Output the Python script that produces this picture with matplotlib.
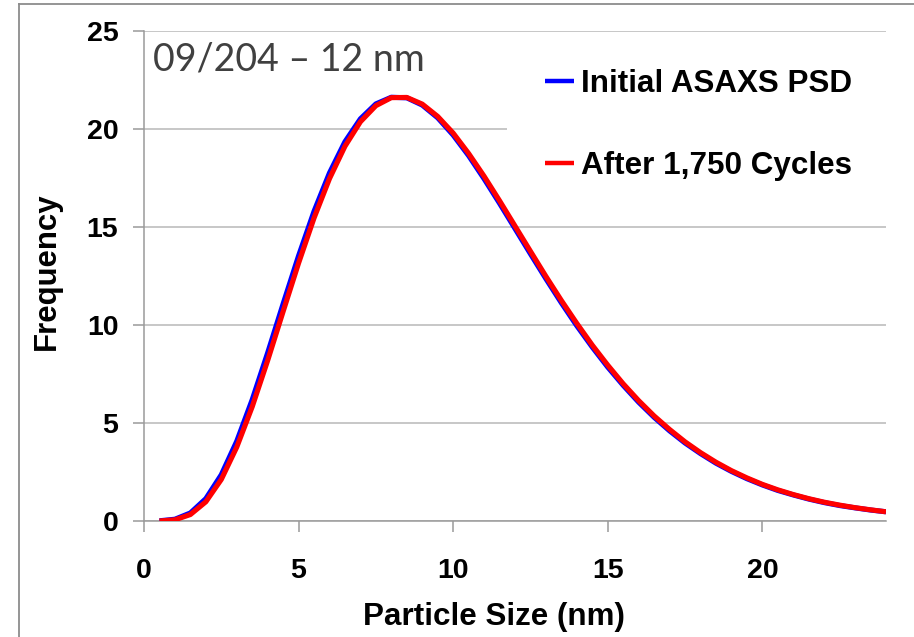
import numpy as np
import matplotlib
matplotlib.use("Agg")
import matplotlib.pyplot as plt
from matplotlib.patches import Rectangle
from matplotlib.lines import Line2D

plt.rcParams['font.family'] = ['Liberation Sans', 'DejaVu Sans']

# =============================================================================
# data
# =============================================================================
sizes = np.arange(0.5, 24.5, 0.5)   # particle size, nm

initial_psd = [0.01, 0.09, 0.41, 1.14, 2.36, 4.07, 6.19, 8.58, 11.08, 13.53,
               15.80, 17.76, 19.35, 20.52, 21.28, 21.62, 21.59, 21.22, 20.57, 19.69,
               18.64, 17.46, 16.21, 14.92, 13.63, 12.36, 11.13, 9.96, 8.87, 7.85,
               6.92, 6.06, 5.29, 4.60, 3.98, 3.44, 2.95, 2.53, 2.16, 1.84,
               1.56, 1.33, 1.12, 0.94, 0.79, 0.67, 0.56, 0.47]

after_cycles = [0.00, 0.06, 0.33, 0.98, 2.12, 3.77, 5.83, 8.19, 10.69, 13.16,
                15.46, 17.47, 19.12, 20.37, 21.19, 21.60, 21.61, 21.27, 20.64, 19.79,
                18.75, 17.59, 16.34, 15.05, 13.76, 12.48, 11.25, 10.08, 8.97, 7.95,
                7.00, 6.14, 5.36, 4.67, 4.04, 3.49, 3.00, 2.57, 2.20, 1.87,
                1.59, 1.35, 1.14, 0.96, 0.81, 0.68, 0.57, 0.47]

series_names = ["Initial ASAXS PSD", "After 1,750 Cycles"]
xticks = [0, 5, 10, 15, 20]
yticks = [0, 5, 10, 15, 20, 25]
title = "09/204 \u2013 12 nm"

# =============================================================================
# figure
# =============================================================================
W, H = 914, 637
fig = plt.figure(figsize=(W / 100, H / 100), dpi=100)
ax = fig.add_axes([144 / W, (H - 521) / H, 742 / W, 490 / H])

axis_col = '#9a9a9a'
grid_col = '#b8b8b8'

ax.plot(sizes, initial_psd, color='#0000ff', lw=3.7, label=series_names[0],
        solid_joinstyle='round', solid_capstyle='butt', zorder=3)
ax.plot(sizes, after_cycles, color='#ff0000', lw=3.7, label=series_names[1],
        solid_joinstyle='round', solid_capstyle='butt', zorder=4)

ax.set_xlim(0, 24)
ax.set_ylim(0, 25)
ax.set_xticks(xticks)
ax.set_yticks(yticks)

ax.yaxis.grid(True, color=grid_col, lw=1.1)
ax.set_axisbelow(True)

for s in ['top', 'right']:
    ax.spines[s].set_visible(False)
for s in ['left', 'bottom']:
    ax.spines[s].set_color(axis_col)
    ax.spines[s].set_linewidth(1.1)

ax.tick_params(axis='both', direction='out', length=8, width=1.1, color=axis_col,
               labelsize=20.5)
ax.tick_params(axis='y', pad=10.5)
ax.tick_params(axis='x', pad=19)
for lab in ax.get_xticklabels() + ax.get_yticklabels():
    lab.set_fontweight('bold')

ax.set_xlabel("Particle Size (nm)", fontsize=22.6, fontweight='bold')
ax.set_ylabel("Frequency", fontsize=22.4, fontweight='bold')
ax.xaxis.set_label_coords(0.4717, -0.1653)
ax.yaxis.set_label_coords(-0.1105, 0.509)

# white block behind the legend (hides the gridline there)
ax.add_patch(Rectangle((0.4892, 0.655), 0.52, 0.327, transform=ax.transAxes,
                       facecolor='white', edgecolor='none', zorder=1.5,
                       clip_on=False))

leg = ax.legend(loc='upper left', bbox_to_anchor=(545 / W, (H - 69) / H),
                bbox_transform=fig.transFigure, frameon=False,
                prop={'size': 22.6, 'weight': 'bold'},
                handlelength=0.92, handletextpad=0.22, labelspacing=1.65,
                borderpad=0, borderaxespad=0)
for h in leg.get_lines():
    h.set_linewidth(3.2)

# title text
fig.text(153 / W, (H - 70) / H, title, fontsize=27, family=['Lato', 'DejaVu Sans'],
         color='#404040', ha='left', va='baseline')

# outer chart border (cropped on the right and bottom)
fig.add_artist(Line2D([19 / W, 1.0], [(H - 4) / H] * 2, transform=fig.transFigure,
                      color='#8c8c8c', lw=1.3))
fig.add_artist(Line2D([19 / W] * 2, [0.0, (H - 4) / H], transform=fig.transFigure,
                      color='#8c8c8c', lw=1.3))

fig.savefig("out.png", dpi=100, facecolor='white')
